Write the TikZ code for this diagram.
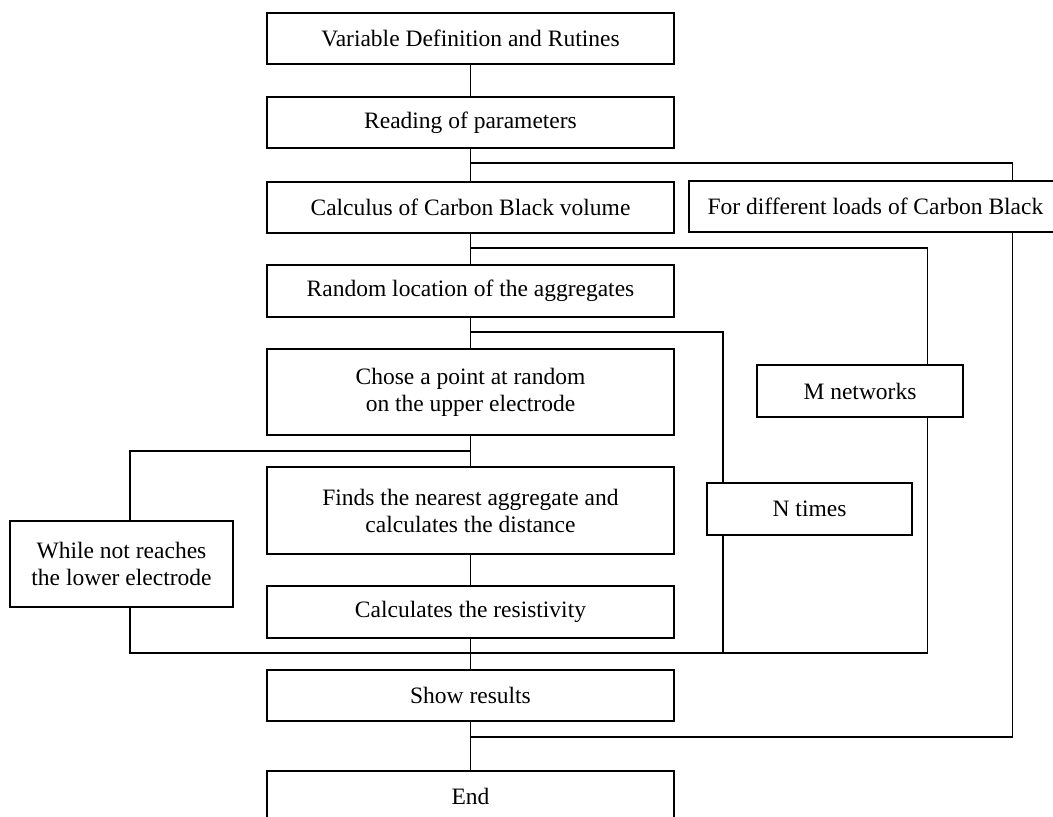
\documentclass[tikz,border=0pt]{standalone}
\usepackage{fontspec}
\setmainfont{Liberation Serif}
\usetikzlibrary{backgrounds}
\begin{document}
\begin{tikzpicture}[x=1pt,y=-1pt,
  box/.style={draw,line width=1.3pt,fill=white,inner sep=0pt,align=center,
    font=\fontsize{23.5}{27}\selectfont},
  link/.style={line width=1.3pt}]
\useasboundingbox (0,0) rectangle (1053,817);
\clip (0,0) rectangle (1053,817);
% main column
\node[box,minimum width=407pt,minimum height=51pt] (b1) at (470.5,38.5) {Variable Definition and Rutines};
\node[box,minimum width=407pt,minimum height=51pt] (b2) at (470.5,122.5) {Reading of parameters};
\node[box,minimum width=407pt,minimum height=51pt] (b3) at (470.5,207.5) {Calculus of Carbon Black volume};
\node[box,minimum width=407pt,minimum height=52pt] (b4) at (470.5,291) {Random location of the aggregates};
\node[box,minimum width=407pt,minimum height=86pt] (b5) at (470.5,392) {Chose a point at random\\on the upper electrode};
\node[box,minimum width=407pt,minimum height=87pt] (b6) at (470.5,510.5) {Finds the nearest aggregate and\\calculates the distance};
\node[box,minimum width=407pt,minimum height=52pt] (b7) at (470.5,612) {Calculates the resistivity};
\node[box,minimum width=407pt,minimum height=51pt] (b8) at (470.5,695.5) {Show results};
\node[box,minimum width=407pt,minimum height=51pt] (b9) at (470.5,796.5) {End};
% loop labels
\node[box,minimum width=366pt,minimum height=51pt] (fd) at (872,206.5) {\hspace*{7pt}For different loads of Carbon Black};
\node[box,minimum width=206pt,minimum height=52pt] (mn) at (860,391) {M networks};
\node[box,minimum width=205pt,minimum height=52pt] (nt) at (809.5,509) {N times};
\node[box,minimum width=223pt,minimum height=86pt] (wl) at (121.5,564) {While not reaches\\the lower electrode};
% junction coordinates
\coordinate (ja) at (470.5,163);
\coordinate (jb) at (470.5,248);
\coordinate (jc) at (470.5,332);
\coordinate (jd) at (470.5,451);
\coordinate (je) at (470.5,653);
\coordinate (jf) at (470.5,737);
\coordinate (ra) at (1012.5,163);
\coordinate (rb) at (1012.5,737);
\coordinate (ma) at (927.5,248);
\coordinate (mb) at (927.5,653);
\coordinate (na) at (723,332);
\coordinate (nb) at (723,653);
\coordinate (wa) at (130,451);
\coordinate (wb) at (130,653);
\begin{scope}[on background layer]
\draw[link] (b1.south) -- (b2.north);
\draw[link] (b2.south) -- (b3.north);
\draw[link] (b3.south) -- (b4.north);
\draw[link] (b4.south) -- (b5.north);
\draw[link] (b5.south) -- (b6.north);
\draw[link] (b6.south) -- (b7.north);
\draw[link] (b7.south) -- (b8.north);
\draw[link] (b8.south) -- (b9.north);
\draw[link] (ja) -- (ra) -- (fd.north -| ra) (fd.south -| ra) -- (rb) -- (jf);
\draw[link] (jb) -- (ma) -- (mn.north -| ma) (mn.south -| ma) -- (mb) -- (je);
\draw[link] (jc) -- (na) -- (nt.north -| na) (nt.south -| na) -- (nb) -- (je);
\draw[link] (jd) -- (wa) -- (wl.north -| wa) (wl.south -| wa) -- (wb) -- (je);
\end{scope}
\end{tikzpicture}
\end{document}
